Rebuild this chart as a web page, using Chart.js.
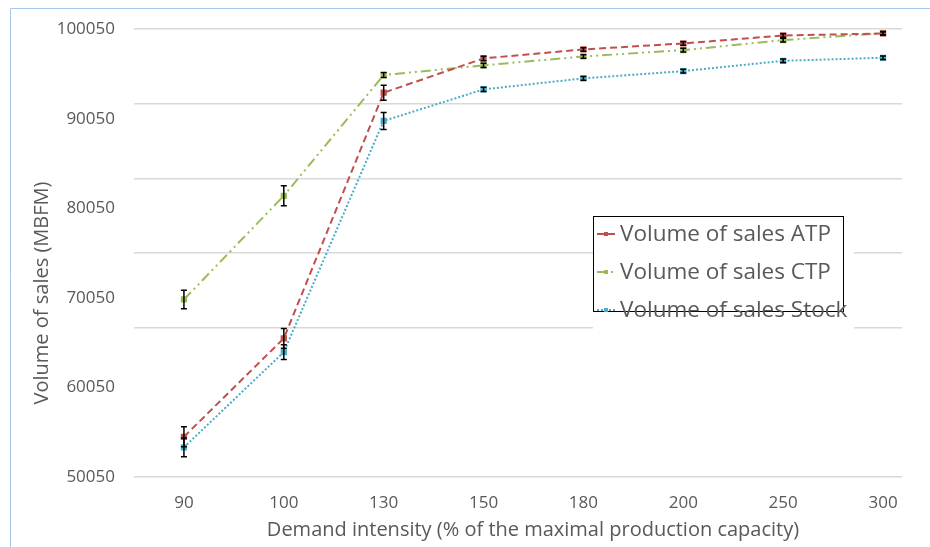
<!DOCTYPE html>
<html>
<head>
<meta charset="utf-8">
<script src="https://cdn.jsdelivr.net/npm/chart.js@4.4.0/dist/chart.umd.min.js"></script>
<style>
    html, body { margin: 0; padding: 0; background: #fff; }
    #wrap { width: 930px; height: 547px; }
</style>
</head>
<body>
<div id="wrap"><canvas id="chart" width="930" height="547"></canvas></div>
<script>
// values
const categories = ["90", "100", "130", "150", "180", "200", "250", "300"];
const salesATP = [54540, 65530, 92960, 96790, 97790, 98460, 99350, 99570];
const salesCTP = [69870, 81450, 94930, 96010, 97010, 97710, 98830, 99600];
const salesStock = [53360, 64000, 89810, 93330, 94560, 95370, 96520, 96860];
const errATP = [1110, 1110, 840, 250, 200, 200, 200, 200];
const errCTP = [1020, 1110, 280, 250, 200, 200, 200, 200];
const errStock = [1050, 830, 950, 250, 200, 200, 200, 200];
const yTickLabels = [50050, 60050, 70050, 80050, 90050, 100050];
const seriesNames = ["Volume of sales ATP", "Volume of sales CTP", "Volume of sales Stock"];
const xTitle = "Demand intensity (% of the maximal production capacity)";
const yTitle = "Volume of sales (MBFM)";

const textColor = "#595959";
const font = "'Open Sans'";
const yMin = 50050, yMax = 100050;

// excel put gridlines every 1/6 of the range (one of them is missing)
var gridValues = [];
for (let k = 0; k <= 6; k++) {
    if (k == 1) continue;
    gridValues.push(yMin + k * (yMax - yMin) / 6);
}

function isGrid(v) {
    return gridValues.some((g) => Math.abs(g - v) < 1);
}

function points(values) {
    return values.map((v, i) => ({ x: i, y: v }));
}

function makeDataset(label, values, errors, color, dash) {
    return {
        label: label,
        data: points(values),
        errors: errors,
        borderColor: color,
        backgroundColor: color,
        borderWidth: 2,
        borderDash: dash,
        pointStyle: "rect",
        pointRadius: 3,
        pointBackgroundColor: color,
        pointBorderColor: color,
        tension: 0,
    };
}

const errorBars = {
    id: "errorBars",
    afterDatasetsDraw(chart) {
        const ctx = chart.ctx;
        const yScale = chart.scales.y;
        ctx.save();
        ctx.strokeStyle = "#000";
        ctx.lineWidth = 1.5;
        chart.data.datasets.forEach((ds, d) => {
            const meta = chart.getDatasetMeta(d);
            meta.data.forEach((pt, i) => {
                const v = ds.data[i].y;
                const e = ds.errors[i];
                const top = yScale.getPixelForValue(v + e);
                const bot = yScale.getPixelForValue(v - e);
                ctx.beginPath();
                ctx.moveTo(pt.x, top);
                ctx.lineTo(pt.x, bot);
                ctx.moveTo(pt.x - 3, top);
                ctx.lineTo(pt.x + 3, top);
                ctx.moveTo(pt.x - 3, bot);
                ctx.lineTo(pt.x + 3, bot);
                ctx.stroke();
            });
        });
        ctx.restore();
    },
};

const frame = {
    id: "frame",
    beforeDraw(chart) {
        const ctx = chart.ctx;
        ctx.save();
        ctx.fillStyle = "#fff";
        ctx.fillRect(0, 0, chart.width, chart.height);
        ctx.strokeStyle = "#a6c6ea";
        ctx.lineWidth = 1;
        ctx.beginPath();
        ctx.moveTo(10.5, chart.height);
        ctx.lineTo(10.5, 8.5);
        ctx.lineTo(chart.width, 8.5);
        ctx.stroke();
        ctx.restore();
    },
    afterDraw(chart) {
        const ctx = chart.ctx;
        ctx.save();
        ctx.fillStyle = textColor;
        ctx.textAlign = "center";
        ctx.textBaseline = "middle";
        ctx.font = "20px " + font;
        ctx.fillText(xTitle, 533, 530);
        ctx.translate(42, 293);
        ctx.rotate(-Math.PI / 2);
        ctx.font = "20px " + font;
        ctx.fillText(yTitle, 0, 0);
        ctx.restore();
    },
};

const boxLegend = {
    id: "boxLegend",
    afterDatasetsDraw(chart) {
        const ctx = chart.ctx;
        ctx.save();
        ctx.fillStyle = "#fff";
        ctx.fillRect(593, 217, 261, 113);
        ctx.strokeStyle = "#000";
        ctx.lineWidth = 1;
        ctx.strokeRect(593.5, 216.5, 250, 95);
        ctx.font = "22.5px " + font;
        ctx.textBaseline = "middle";
        chart.data.datasets.forEach((ds, i) => {
            const y = 235 + i * 38;
            ctx.strokeStyle = ds.borderColor;
            ctx.lineWidth = 2;
            ctx.setLineDash(ds.borderDash);
            ctx.beginPath();
            ctx.moveTo(597, y - 1);
            ctx.lineTo(615, y - 1);
            ctx.stroke();
            ctx.setLineDash([]);
            ctx.fillStyle = ds.borderColor;
            ctx.fillRect(604, y - 3, 4, 4);
            ctx.fillStyle = textColor;
            ctx.fillText(ds.label, 620, y);
        });
        ctx.restore();
    },
};

const ctx = document.getElementById("chart");
const chart = new Chart(ctx, {
    type: "line",
    data: {
        datasets: [
            makeDataset(seriesNames[0], salesATP, errATP, "#c0504d", [7, 4]),
            makeDataset(seriesNames[1], salesCTP, errCTP, "#9bbb59", [10, 4, 2, 4, 2, 4]),
            makeDataset(seriesNames[2], salesStock, errStock, "#4bacc6", [2, 2]),
        ],
    },
    options: {
        responsive: false,
        animation: false,
        layout: { padding: { left: 0, top: 28, right: 28, bottom: 0 } },
        plugins: {
            legend: { display: false },
            tooltip: { enabled: false },
        },
        scales: {
            x: {
                type: "linear",
                min: -0.5,
                max: 7.19,
                afterBuildTicks: (scale) => {
                    scale.ticks = categories.map((c, i) => ({ value: i }));
                },
                afterFit: (scale) => {
                    scale.height = 70;
                },
                grid: { display: false },
                border: { display: false },
                ticks: {
                    autoSkip: false,
                    maxRotation: 0,
                    padding: 8,
                    color: textColor,
                    font: { family: font, size: 17 },
                    callback: (v) => categories[v],
                },
            },
            y: {
                min: yMin,
                max: yMax,
                afterBuildTicks: (scale) => {
                    var vals = yTickLabels.concat(gridValues.filter((g) => !yTickLabels.some((t) => Math.abs(t - g) < 1)));
                    vals.sort((a, b) => a - b);
                    scale.ticks = vals.map((v) => ({ value: v }));
                },
                afterFit: (scale) => {
                    scale.width = 134;
                },
                grid: {
                    drawTicks: false,
                    color: (c) => (c.tick && isGrid(c.tick.value) ? "#d9d9d9" : "rgba(0,0,0,0)"),
                    lineWidth: 1.5,
                },
                border: { display: false },
                ticks: {
                    autoSkip: false,
                    padding: 19,
                    color: textColor,
                    font: { family: font, size: 17 },
                    callback: (v) => (yTickLabels.includes(v) ? String(v) : ""),
                },
            },
        },
    },
    plugins: [frame, errorBars, boxLegend],
});
</script>
</body>
</html>
